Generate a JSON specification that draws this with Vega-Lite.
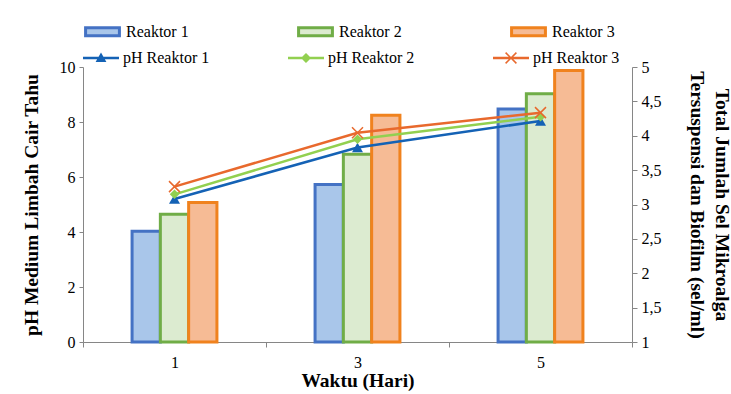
{
  "$schema": "https://vega.github.io/schema/vega-lite/v6.json",
  "width": 549,
  "height": 275,
  "autosize": {"type": "none"},
  "padding": {"left": 83, "top": 67, "right": 99, "bottom": 52},
  "background": "#ffffff",
  "config": {
    "font": "Times New Roman, Liberation Serif, DejaVu Serif, serif",
    "view": {"stroke": null},
    "axis": {
      "grid": false,
      "domainColor": "#868686",
      "tickColor": "#868686",
      "labelColor": "#000000",
      "titleColor": "#000000",
      "labelFont": "Times New Roman, Liberation Serif, DejaVu Serif, serif",
      "titleFont": "Times New Roman, Liberation Serif, DejaVu Serif, serif",
      "labelFontSize": 16,
      "titleFontSize": 19.5,
      "titleFontWeight": "bold"
    },
    "legend": {
      "labelFont": "Times New Roman, Liberation Serif, DejaVu Serif, serif",
      "labelFontSize": 16,
      "labelColor": "#000000",
      "padding": 0,
      "offset": 0
    }
  },
  "datasets": {
    "sel": [
      {"hari": "1", "reaktor": "Reaktor 1", "sel": 2.61},
      {"hari": "1", "reaktor": "Reaktor 2", "sel": 2.86},
      {"hari": "1", "reaktor": "Reaktor 3", "sel": 3.03},
      {"hari": "3", "reaktor": "Reaktor 1", "sel": 3.29},
      {"hari": "3", "reaktor": "Reaktor 2", "sel": 3.73},
      {"hari": "3", "reaktor": "Reaktor 3", "sel": 4.30},
      {"hari": "5", "reaktor": "Reaktor 1", "sel": 4.39},
      {"hari": "5", "reaktor": "Reaktor 2", "sel": 4.61},
      {"hari": "5", "reaktor": "Reaktor 3", "sel": 4.95}
    ],
    "ph": [
      {"hari": "1", "seri": "pH Reaktor 1", "ph": 5.20},
      {"hari": "3", "seri": "pH Reaktor 1", "ph": 7.07},
      {"hari": "5", "seri": "pH Reaktor 1", "ph": 8.04},
      {"hari": "1", "seri": "pH Reaktor 2", "ph": 5.37},
      {"hari": "3", "seri": "pH Reaktor 2", "ph": 7.37},
      {"hari": "5", "seri": "pH Reaktor 2", "ph": 8.19},
      {"hari": "1", "seri": "pH Reaktor 3", "ph": 5.65},
      {"hari": "3", "seri": "pH Reaktor 3", "ph": 7.61},
      {"hari": "5", "seri": "pH Reaktor 3", "ph": 8.34}
    ]
  },
  "encoding": {
    "x": {
      "field": "hari",
      "type": "nominal",
      "sort": ["1", "3", "5"],
      "scale": {"type": "band", "paddingInner": 0, "paddingOuter": 0},
      "axis": {
        "title": "Waktu (Hari)",
        "labelAngle": 0,
        "tickBand": "extent",
        "tickSize": 5,
        "labelPadding": 7,
        "titlePadding": 1
      }
    }
  },
  "layer": [
    {
      "data": {"name": "sel"},
      "mark": {"type": "bar", "strokeWidth": 3, "opacity": 1},
      "encoding": {
        "xOffset": {
          "field": "reaktor",
          "type": "nominal",
          "scale": {"domain": ["_a", "Reaktor 1", "Reaktor 2", "Reaktor 3", "_b"], "paddingInner": 0, "paddingOuter": 0.735}
        },
        "y": {
          "field": "sel",
          "type": "quantitative",
          "scale": {"domain": [1, 5], "nice": false, "zero": false},
          "axis": {
            "orient": "right",
            "values": [1, 1.5, 2, 2.5, 3, 3.5, 4, 4.5, 5],
            "labelExpr": "replace(format(datum.value, '~g'), '.', ',')",
            "tickSize": 5,
            "labelPadding": 4,
            "title": ["Total Jumlah Sel Mikroalga", "Tersuspensi dan Biofilm (sel/ml)"],
            "titleAngle": 90,
            "titleBaseline": "middle",
            "titleX": 89,
            "titleLineHeight": 25
          }
        },
        "y2": {"datum": 1},
        "fill": {
          "field": "reaktor",
          "type": "nominal",
          "scale": {"domain": ["Reaktor 1", "Reaktor 2", "Reaktor 3"], "range": ["#a9c6ea", "#dcebd0", "#f6bb95"]},
          "legend": {
            "orient": "none", "legendX": 0, "legendY": -55, "direction": "horizontal",
            "title": null, "symbolType": "M-0.94,-0.22H0.94V0.22H-0.94Z", "symbolSize": 1296,
            "symbolStrokeWidth": 3, "labelOffset": 4, "columnPadding": 103, "gridAlign": "all",
            "labelFontSize": 16
          }
        },
        "stroke": {
          "field": "reaktor",
          "type": "nominal",
          "scale": {"domain": ["Reaktor 1", "Reaktor 2", "Reaktor 3"], "range": ["#4472c4", "#70ad47", "#f0821e"]},
          "legend": {
            "orient": "none", "legendX": 0, "legendY": -55, "direction": "horizontal",
            "title": null, "symbolType": "M-0.94,-0.22H0.94V0.22H-0.94Z", "symbolSize": 1296,
            "symbolStrokeWidth": 3, "labelOffset": 4, "columnPadding": 103, "gridAlign": "all",
            "labelFontSize": 16
          }
        }
      }
    },
    {
      "data": {"name": "ph"},
      "encoding": {
        "y": {
          "field": "ph",
          "type": "quantitative",
          "scale": {"domain": [0, 10], "nice": false},
          "axis": {
            "orient": "left",
            "values": [0, 2, 4, 6, 8, 10],
            "tickSize": 4,
            "labelPadding": 4,
            "title": "pH Medium Limbah Cair Tahu",
            "titleBaseline": "middle",
            "titleX": -52
          }
        }
      },
      "layer": [
        {
          "mark": {"type": "line", "strokeWidth": 2.5},
          "encoding": {
            "color": {
              "field": "seri", "type": "nominal",
              "scale": {"domain": ["pH Reaktor 1", "pH Reaktor 2", "pH Reaktor 3"], "range": ["#1462b5", "#92d050", "#e8692d"]},
              "legend": {
                "orient": "none", "legendX": 0, "legendY": -27, "direction": "horizontal",
                "title": null, "symbolSize": 1296, "symbolStrokeWidth": 0,
                "labelOffset": 4, "columnPadding": 78, "gridAlign": "all",
                "labelFontSize": 16
              }
            }
          }
        },
        {
          "mark": {"type": "point", "filled": true, "opacity": 1, "strokeWidth": 0},
          "encoding": {
            "color": {
              "field": "seri", "type": "nominal",
              "scale": {"domain": ["pH Reaktor 1", "pH Reaktor 2", "pH Reaktor 3"], "range": ["#1462b5", "#92d050", "#e8692d"]},
              "legend": {
                "orient": "none", "legendX": 0, "legendY": -27, "direction": "horizontal",
                "title": null, "symbolSize": 1296, "symbolStrokeWidth": 0,
                "labelOffset": 4, "columnPadding": 78, "gridAlign": "all",
                "labelFontSize": 16
              }
            },
            "shape": {
              "condition": [
                {"test": "datum.seri === 'pH Reaktor 1'", "value": "triangle-up"},
                {"test": "datum.seri === 'pH Reaktor 2'", "value": "diamond"}
              ],
              "value": "M-0.904,-1.096L1.096,0.904L0.904,1.096L-1.096,-0.904Z M-0.904,1.096L-1.096,0.904L0.904,-1.096L1.096,-0.904Z"
            },
            "size": {
              "condition": [{"test": "datum.seri === 'pH Reaktor 2'", "value": 90}],
              "value": 121
            }
          }
        },
        {
          "mark": {"type": "point", "filled": true, "opacity": 1, "clip": true, "strokeWidth": 0},
          "encoding": {
            "y": {"datum": -5, "type": "quantitative"},
            "color": {
              "field": "seri", "type": "nominal",
              "scale": {"domain": ["pH Reaktor 1", "pH Reaktor 2", "pH Reaktor 3"], "range": ["#1462b5", "#92d050", "#e8692d"]},
              "legend": {
                "orient": "none", "legendX": 0, "legendY": -27, "direction": "horizontal",
                "title": null, "symbolSize": 1296, "symbolStrokeWidth": 0,
                "labelOffset": 4, "columnPadding": 78, "gridAlign": "all",
                "labelFontSize": 16
              }
            },
            "shape": {
              "field": "seri", "type": "nominal",
              "scale": {
                "domain": ["pH Reaktor 1", "pH Reaktor 2", "pH Reaktor 3"],
                "range": [
                  "M-1,-0.07H1V0.07H-1Z M-0.3,0.22L0,-0.3L0.3,0.22Z",
                  "M-1,-0.07H1V0.07H-1Z M0,-0.28L0.28,0L0,0.28L-0.28,0Z",
                  "M-1,-0.07H1V0.07H-1Z M-0.27,-0.33L0.33,0.27L0.27,0.33L-0.33,-0.27Z M-0.27,0.33L-0.33,0.27L0.27,-0.33L0.33,-0.27Z"
                ]
              },
              "legend": {
                "orient": "none", "legendX": 0, "legendY": -27, "direction": "horizontal",
                "title": null, "symbolSize": 1296, "symbolStrokeWidth": 0,
                "labelOffset": 4, "columnPadding": 78, "gridAlign": "all",
                "labelFontSize": 16
              }
            }
          }
        }
      ]
    }
  ],
  "resolve": {"scale": {"y": "independent"}}
}
